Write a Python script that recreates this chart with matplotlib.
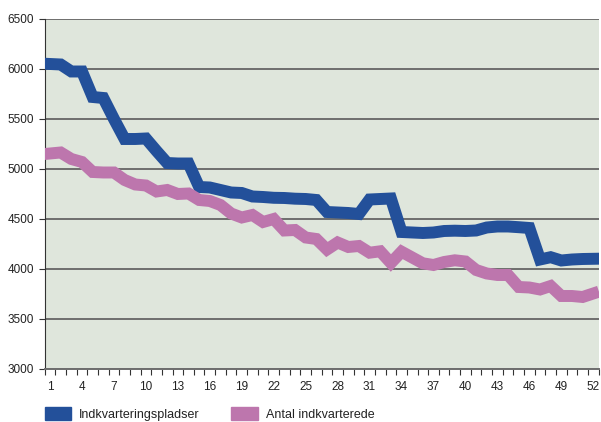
import numpy as np
import matplotlib.pyplot as plt
from matplotlib.patches import Patch

plt.rcParams['font.family'] = ['Liberation Sans', 'DejaVu Sans']

weeks = np.arange(1, 53)
pladser = [6050, 6045, 5975, 5975, 5720, 5710, 5500, 5300, 5300, 5305,
           5180, 5060, 5055, 5055, 4820, 4815, 4790, 4765, 4760, 4725,
           4720, 4712, 4710, 4703, 4700, 4690, 4570, 4565, 4560, 4550,
           4695, 4700, 4705, 4370, 4365, 4360, 4365, 4380, 4383, 4380,
           4385, 4415, 4425, 4425, 4418, 4410, 4095, 4118, 4085, 4095,
           4100, 4102]
indkvarterede = [5155, 5165, 5100, 5070, 4970, 4965, 4965, 4890, 4845, 4835,
                 4775, 4790, 4750, 4755, 4690, 4680, 4640, 4555, 4515, 4540,
                 4470, 4500, 4385, 4390, 4315, 4300, 4195, 4265, 4220, 4230,
                 4163, 4177, 4060, 4173, 4115, 4057, 4040, 4070, 4087, 4075,
                 3990, 3955, 3940, 3940, 3820, 3815, 3795, 3830, 3730, 3730,
                 3720, 3755]
labels = ['Indkvarteringspladser', 'Antal indkvarterede']
blue = '#23509a'
pink = '#bd76ad'

fig = plt.figure(figsize=(6.01, 4.22), dpi=100)
ax = fig.add_axes([0.0744, 0.1256, 0.9216, 0.8294])
ax.set_facecolor('#dfe6dc')

ax.plot(weeks, pladser, color=blue, lw=8.6, solid_joinstyle='miter', zorder=3)
ax.plot(weeks, indkvarterede, color=pink, lw=8.6, solid_joinstyle='miter', zorder=3)

ax.set_xlim(0.5, 52.5)
ax.set_ylim(3000, 6500)
ax.set_yticks(np.arange(3000, 6501, 500))
ax.set_xticks(weeks[::3])
ax.set_xticks(np.arange(0.5, 53, 1), minor=True)
ax.tick_params(axis='x', which='major', length=0, pad=9, labelsize=8.5, colors='#222222')
ax.tick_params(axis='x', which='minor', length=4, width=0.8, color='#333333')
ax.tick_params(axis='y', length=4, width=0.8, color='#333333', labelsize=8.5, labelcolor='#222222')

ax.grid(axis='y', color='#6e6e6e', lw=1.4, zorder=1)
for s in ['top', 'right']:
    ax.spines[s].set_visible(False)
ax.spines['left'].set_color('#333333')
ax.spines['bottom'].set_color('#6e6e6e')
ax.spines['bottom'].set_linewidth(1.4)

handles = [Patch(color=blue), Patch(color=pink)]
fig.legend(handles, labels, loc='center left', bbox_to_anchor=(45 / 601, 1 - 414 / 422), ncol=2,
           frameon=False, fontsize=9, handlelength=2.1, handleheight=1.2,
           columnspacing=2.5, handletextpad=0.65, borderpad=0, borderaxespad=0,
           labelcolor='#222222')

fig.savefig('out.png', dpi=100)
